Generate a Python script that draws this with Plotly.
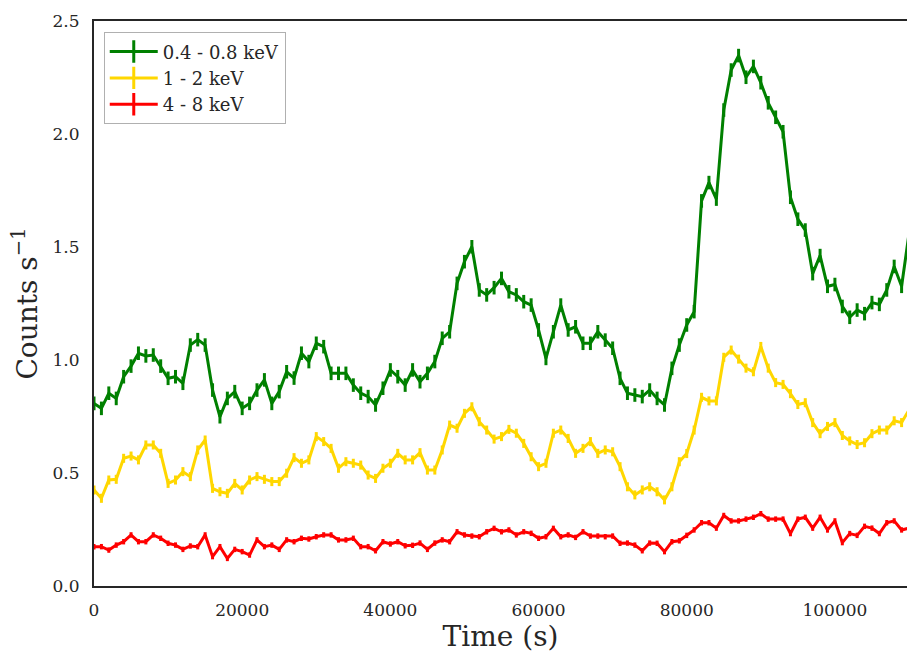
import plotly.graph_objects as go

time_s = [i * 1000 for i in range(111)]

soft = [0.808, 0.786, 0.853, 0.83, 0.926, 0.973, 1.03, 1.018, 1.022, 0.973,
        0.919, 0.926, 0.897, 1.066, 1.09, 1.066, 0.867, 0.749, 0.83, 0.86,
        0.786, 0.808, 0.867, 0.912, 0.808, 0.86, 0.948, 0.92, 1.03, 0.993,
        1.074, 1.059, 0.941, 0.941, 0.941, 0.889, 0.853, 0.838, 0.801, 0.875,
        0.956, 0.926, 0.889, 0.956, 0.904, 0.941, 0.993, 1.096, 1.125, 1.339,
        1.435, 1.501, 1.31, 1.288, 1.32, 1.361, 1.302, 1.288, 1.258, 1.243,
        1.133, 1.007, 1.125, 1.243, 1.133, 1.147, 1.074, 1.074, 1.125, 1.088,
        1.052, 0.919, 0.853, 0.845, 0.838, 0.867, 0.83, 0.801, 0.963, 1.066,
        1.155, 1.214, 1.704, 1.785, 1.712, 2.106, 2.283, 2.347, 2.251, 2.299,
        2.227, 2.138, 2.074, 2.01, 1.72, 1.623, 1.575, 1.382, 1.462, 1.326,
        1.334, 1.237, 1.189, 1.221, 1.205, 1.254, 1.246, 1.31, 1.414, 1.326,
        1.559]

medium = [0.425, 0.388, 0.469, 0.472, 0.565, 0.575, 0.558, 0.624, 0.624, 0.587,
          0.454, 0.469, 0.506, 0.484, 0.602, 0.646, 0.432, 0.417, 0.41, 0.454,
          0.425, 0.469, 0.484, 0.472, 0.462, 0.462, 0.499, 0.568, 0.543, 0.558,
          0.661, 0.639, 0.609, 0.521, 0.55, 0.543, 0.535, 0.491, 0.476, 0.521,
          0.543, 0.587, 0.558, 0.558, 0.59, 0.513, 0.513, 0.602, 0.712, 0.698,
          0.764, 0.793, 0.727, 0.69, 0.65, 0.661, 0.693, 0.676, 0.631, 0.572,
          0.528, 0.543, 0.676, 0.69, 0.653, 0.587, 0.609, 0.639, 0.587, 0.602,
          0.594, 0.528, 0.439, 0.403, 0.425, 0.439, 0.417, 0.381, 0.439, 0.55,
          0.586, 0.69, 0.835, 0.819, 0.819, 1.012, 1.044, 1.004, 0.964, 0.948,
          1.06, 0.964, 0.9, 0.892, 0.851, 0.803, 0.811, 0.723, 0.674, 0.706,
          0.723, 0.666, 0.642, 0.626, 0.634, 0.674, 0.69, 0.69, 0.731, 0.723,
          0.779]

hard = [0.174, 0.174, 0.159, 0.181, 0.196, 0.226, 0.196, 0.196, 0.226, 0.211,
        0.189, 0.181, 0.162, 0.177, 0.174, 0.226, 0.13, 0.174, 0.122, 0.162,
        0.152, 0.137, 0.204, 0.174, 0.181, 0.162, 0.204, 0.196, 0.211, 0.208,
        0.218, 0.226, 0.226, 0.204, 0.204, 0.211, 0.174, 0.174, 0.156, 0.196,
        0.186, 0.196, 0.178, 0.18, 0.19, 0.162, 0.19, 0.204, 0.196, 0.24,
        0.226, 0.221, 0.218, 0.24, 0.255, 0.24, 0.248, 0.226, 0.24, 0.233,
        0.211, 0.218, 0.255, 0.218, 0.226, 0.215, 0.24, 0.221, 0.221, 0.218,
        0.221, 0.189, 0.19, 0.181, 0.156, 0.19, 0.189, 0.152, 0.196, 0.2,
        0.224, 0.248, 0.28, 0.28, 0.256, 0.312, 0.288, 0.288, 0.296, 0.304,
        0.32, 0.296, 0.296, 0.296, 0.232, 0.296, 0.304, 0.256, 0.304, 0.248,
        0.288, 0.192, 0.232, 0.224, 0.264, 0.256, 0.232, 0.28, 0.288, 0.248,
        0.256]

series_names = ["0.4 - 0.8 keV", "1 - 2 keV", "4 - 8 keV"]
series_vals = [soft, medium, hard]
series_err = [0.03, 0.02, 0.012]
series_colors = ["#008000", "#FFD700", "#FF0000"]

x_ticks = [0, 20000, 40000, 60000, 80000, 100000]
y_ticks = [0.0, 0.5, 1.0, 1.5, 2.0, 2.5]

FONT = "DejaVu Serif"
fig = go.Figure()
for name, vals, err, col in zip(series_names, series_vals, series_err, series_colors):
    fig.add_trace(go.Scatter(
        x=time_s, y=vals, mode="lines", name=name, showlegend=False,
        line=dict(color=col, width=3),
        error_y=dict(type="constant", value=err, color=col, thickness=3, width=0),
    ))
for name, col in zip(series_names, series_colors):
    fig.add_trace(go.Scatter(
        x=[None], y=[None], mode="lines+markers", name=name,
        line=dict(color=col, width=3),
        marker=dict(symbol="line-ns", size=18, line=dict(color=col, width=3), color=col),
    ))

fig.update_layout(
    width=907, height=655,
    margin=dict(l=94, r=0, t=21, b=69),
    paper_bgcolor="white", plot_bgcolor="white",
    font=dict(family=FONT, size=17, color="#262626"),
    showlegend=True,
    legend=dict(x=0.012, y=0.98, xanchor="left", yanchor="top",
                bgcolor="white", bordercolor="#b0b0b0", borderwidth=1,
                font=dict(family=FONT, size=18, color="#262626"),
                tracegroupgap=0, itemwidth=48),
    xaxis=dict(range=[0, 109730], tickvals=x_ticks, ticktext=[str(v) for v in x_ticks],
               showgrid=False, zeroline=False, showline=True, linecolor="#262626",
               linewidth=2, mirror=True, ticks="", ticklabelstandoff=8,
               title=dict(text="Time (s)", font=dict(family=FONT, size=28), standoff=6)),
    yaxis=dict(range=[0, 2.5], tickvals=y_ticks, ticktext=[f"{v:.1f}" for v in y_ticks],
               showgrid=False, zeroline=False, showline=True, linecolor="#262626",
               linewidth=2, ticks="", ticklabelstandoff=9,
               title=dict(text="Counts s<sup>−1</sup>", font=dict(family=FONT, size=28), standoff=7)),
)

fig.write_html("out.html")
